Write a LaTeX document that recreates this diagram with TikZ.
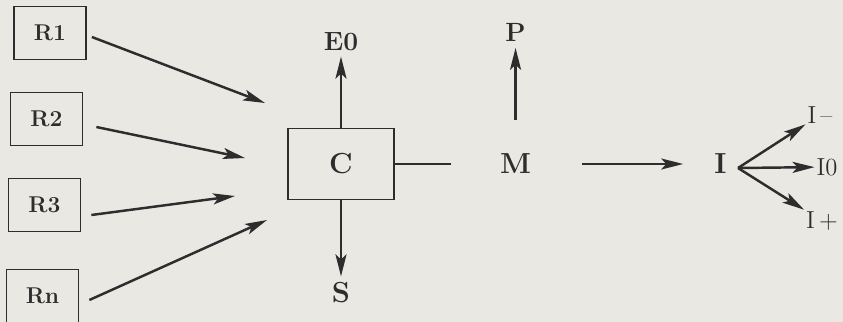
\documentclass[tikz,border=0pt]{standalone}
\usetikzlibrary{arrows.meta,positioning}

\definecolor{paper}{RGB}{233,232,227}
\definecolor{ink}{RGB}{45,45,45}

\begin{document}
\begin{tikzpicture}[node distance=2cm,>={Stealth[length=0.44cm,width=0.22cm,inset=0.1cm]},
  rbox/.style={rectangle, draw=ink, line width=1pt, minimum width=1.44cm, minimum height=1.06cm,
    text=ink, font=\bfseries\fontsize{13}{15}\selectfont},
  big/.style={text=ink, font=\bfseries\fontsize{16.5}{19}\selectfont},
  mid/.style={text=ink, font=\bfseries\fontsize{15}{17}\selectfont},
  small/.style={text=ink, inner sep=1pt, font=\fontsize{14}{16}\selectfont},
  flow/.style={->, draw=ink, line width=1.4pt}]

\fill[paper] (0,0) rectangle (16.86,-6.44);
\useasboundingbox (0,0) rectangle (16.86,-6.44);

% sources
\node (r1) [rbox] at (1.0,-0.66) {R1};
\node (r2) [rbox] at (0.93,-2.38) {R2};
\node (r3) [rbox] at (0.89,-4.1) {R3};
\node (rn) [rbox] at (0.85,-5.92) {Rn};

\node (c) [rectangle, draw=ink, line width=1pt, minimum width=2.12cm, minimum height=1.42cm, big]
  at (6.82,-3.28) {C};

\node (e0) [mid, above=1.42cm of c] {E0};
\node (s) [big, below=1.52cm of c] {S};
\node (m) [big, right=1.98cm of c] {M};
\node (p) [mid, above=2.0cm of m] {P};
\node (i) [big, right=3.42cm of m] {I};

\node (iminus) [small] at (16.4,-2.3) {I\,--};
\node (izero) [small] at (16.54,-3.34) {I0};
\node (iplus) [small] at (16.44,-4.42) {I\,+};

\coordinate (in1) at (5.3,-2.06);
\coordinate (in2) at (4.9,-3.16);
\coordinate (in3) at (4.7,-3.92);
\coordinate (in4) at (5.34,-4.4);
\coordinate (fork) at (14.76,-3.36);

\draw[flow] ([shift={(0.1,-0.08)}]r1.east) -- (in1);
\draw[flow] ([shift={(0.26,-0.16)}]r2.east) -- (in2);
\draw[flow] ([shift={(0.2,-0.2)}]r3.east) -- (in3);
\draw[flow] ([shift={(0.2,-0.08)}]rn.east) -- (in4);

\draw[flow] (c) -- (e0);
\draw[flow] (c) -- (s);
\draw[draw=ink, line width=1.4pt, shorten >=0.86cm] (c) -- (m);
\draw[flow, shorten <=0.56cm] (m) -- (p);
\draw[flow, shorten <=0.9cm, shorten >=0.5cm] (m) -- (i);

\draw[flow] (fork) -- (iminus);
\draw[flow] (fork) -- (izero);
\draw[flow] (fork) -- (iplus);

\end{tikzpicture}
\end{document}
